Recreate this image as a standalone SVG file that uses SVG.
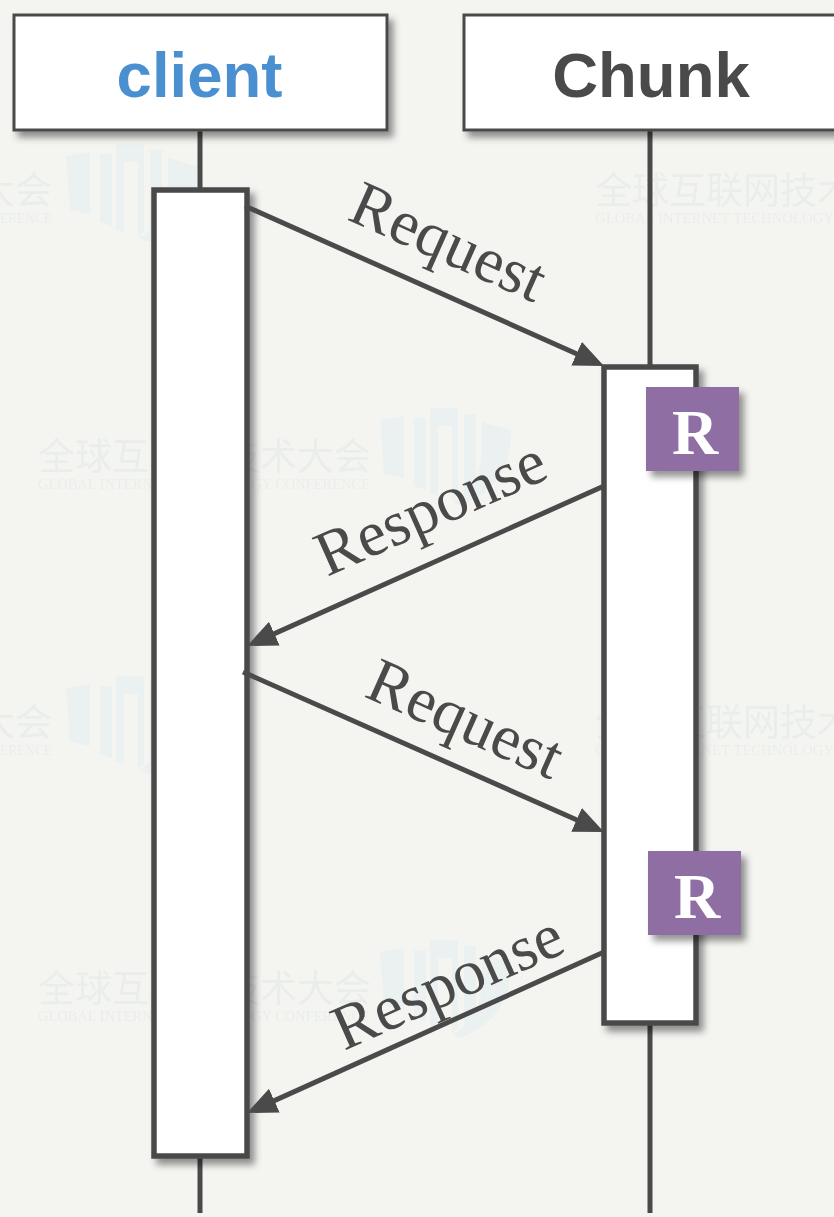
<svg xmlns="http://www.w3.org/2000/svg" width="834" height="1217" viewBox="0 0 834 1217">
<defs>
<filter id="sh" x="-20%" y="-20%" width="150%" height="150%"><feDropShadow dx="5" dy="6" stdDeviation="3.500" flood-color="#000" flood-opacity="0.42"/></filter>
<filter id="soft"><feGaussianBlur stdDeviation="0.700"/></filter>
<marker id="arr" markerUnits="userSpaceOnUse" markerWidth="32" markerHeight="28" refX="22" refY="13" orient="auto"><path d="M0 0L30 13L0 26Z" fill="#4a4a4a"/></marker>
<g id="logo" fill="#ebf1f0"><path d="M0 6l24 -4v62l-20 -4z"/><path d="M34 4h12v72l-12 -4z"/><path d="M50 -6h28v88l-6 4v-74h-14v70l-8 -2z"/><path d="M84 0h12v70l-12 10z"/><path d="M102 8l29 8c0 30 -6 56 -50 76l-8 -4c24 -14 29 -34 29 -58z"/></g>
</defs>
<style>
.wm{font-family:"Noto Sans CJK SC",sans-serif;font-size:37px;fill:#e9eeec}
.wme{font-family:"Liberation Serif",serif;font-size:14px;fill:#e9eeec}
.box{fill:#fff;stroke:#4a4a4a;stroke-width:3;filter:url(#sh)}
.act{fill:#fff;stroke:#4a4a4a;stroke-width:5.500;filter:url(#sh)}
.life{stroke:#4a4a4a;stroke-width:5;fill:none}
.msg{stroke:#4a4a4a;stroke-width:5;fill:none;marker-end:url(#arr)}
.title{font-family:"Liberation Sans",Arial,sans-serif;font-size:63.500px;font-weight:bold;text-anchor:middle}
.lab{font-family:"Liberation Serif","Times New Roman",serif;font-size:64px;fill:#4a4a4a;text-anchor:middle}
.rb{fill:#8f6ea4;filter:url(#sh)}
.rt{font-family:"Liberation Serif","Times New Roman",serif;font-size:64px;font-weight:bold;fill:#fff;text-anchor:middle}
</style>
<rect id="background" width="834" height="1217" fill="#f4f5f1"/>
<g id="watermark" filter="url(#soft)">
<text class="wm" x="-22" y="204">大会</text>
<text class="wm" x="595" y="204">全球互联网技术</text>
<text class="wm" x="38" y="470">全球互联网技术大会</text>
<text class="wm" x="-22" y="736">大会</text>
<text class="wm" x="595" y="736">全球互联网技术</text>
<text class="wm" x="38" y="1002">全球互联网技术大会</text>
<text class="wme" x="38" y="489" textLength="332" lengthAdjust="spacingAndGlyphs">GLOBAL INTERNET TECHNOLOGY CONFERENCE</text>
<text class="wme" x="38" y="1021" textLength="332" lengthAdjust="spacingAndGlyphs">GLOBAL INTERNET TECHNOLOGY CONFERENCE</text>
<text class="wme" x="0" y="223" textLength="52" lengthAdjust="spacingAndGlyphs">ERENCE</text>
<text class="wme" x="595" y="223" textLength="239" lengthAdjust="spacingAndGlyphs">GLOBAL INTERNET TECHNOLOGY</text>
<text class="wme" x="0" y="755" textLength="52" lengthAdjust="spacingAndGlyphs">ERENCE</text>
<text class="wme" x="595" y="755" textLength="239" lengthAdjust="spacingAndGlyphs">GLOBAL INTERNET TECHNOLOGY</text>
<use href="#logo" x="66" y="150"/>
<use href="#logo" x="380" y="414"/>
<use href="#logo" x="66" y="682"/>
<use href="#logo" x="380" y="946"/>
</g>
<g id="lifelines">
<path class="life" d="M200 130V1213"/>
<path class="life" d="M650 130V1213"/>
</g>
<g id="client"><rect class="box" x="14" y="15" width="373" height="115"/><text class="title" x="199.500" y="97" fill="#4a90d0">client</text></g>
<g id="chunk"><rect class="box" x="464" y="15" width="380" height="115"/><text class="title" x="651" y="97" fill="#4a4a4a">Chunk</text></g>
<g id="client-activation"><rect class="act" x="154" y="190" width="93" height="966"/></g>
<g id="chunk-activation"><rect class="act" x="604" y="367" width="92" height="656"/></g>
<g id="connectors">
<path class="msg" d="M245 206L596.700 362.700"/>
<path class="msg" d="M604 486L254.300 642.700"/>
<path class="msg" d="M243 672L596.700 828.700"/>
<path class="msg" d="M604 952L254.300 1109.700"/>
</g>
<g id="labels">
<text class="lab" transform="translate(440 261) rotate(24)">Request</text>
<text class="lab" transform="translate(439 527) rotate(-24)">Response</text>
<text class="lab" transform="translate(457 738) rotate(24)">Request</text>
<text class="lab" transform="translate(456 1001) rotate(-24)">Response</text>
</g>
<g id="r1"><rect class="rb" x="646" y="387" width="93" height="84"/><text class="rt" x="695" y="454">R</text></g>
<g id="r2"><rect class="rb" x="648" y="851" width="93" height="84"/><text class="rt" x="697" y="918">R</text></g>
</svg>
